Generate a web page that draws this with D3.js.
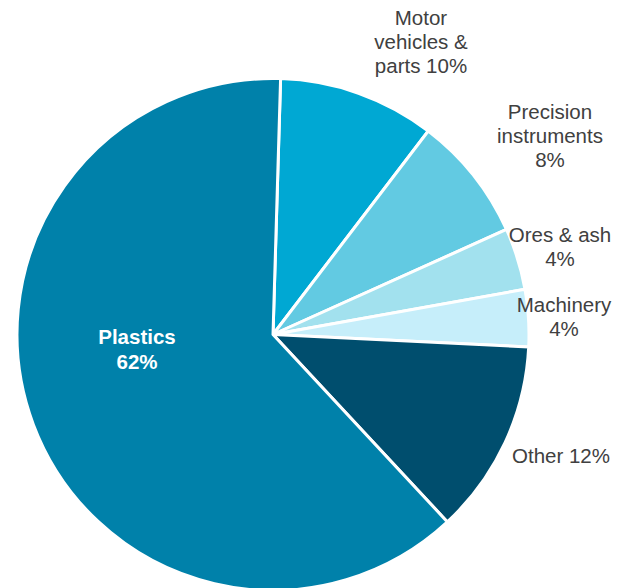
<!DOCTYPE html>
<html>
<head>
<meta charset="utf-8">
<script src="https://cdn.jsdelivr.net/npm/d3@7"></script>
<style>
  body { margin: 0; background: #fff; }
  text { font-family: "Liberation Sans", Arial, sans-serif; }
</style>
</head>
<body>
<div id="chart"></div>
<script>
// Shares (percent), clockwise from 12 o'clock
const categories = ["Motor vehicles & parts", "Precision instruments", "Ores & ash", "Machinery", "Other", "Plastics"];
const values = [9.9, 7.9, 3.9, 3.6, 12.3, 62.4];
const labelLines = [
  ["Motor", "vehicles &", "parts 10%"],
  ["Precision", "instruments", "8%"],
  ["Ores & ash", "4%"],
  ["Machinery", "4%"],
  ["Other 12%"],
  ["Plastics", "62%"]
];
const colors = ["#00a8d3", "#62cae2", "#a2e1ee", "#c6eefa", "#004e6e", "#0081aa"];

// Label anchors (centre x, first baseline y)
const labelPos = [[421, 25], [550, 119], [560, 242], [564, 312], [561, 463], [137, 344]];

const width = 623, height = 588;
const cx = 273, cy = 334.5, radius = 256;
const startAngle = 1.7 * Math.PI / 180;

const svg = d3.select("#chart").append("svg")
  .attr("width", width)
  .attr("height", height);

const pie = d3.pie()
  .sort(null)
  .startAngle(startAngle)
  .endAngle(startAngle + 2 * Math.PI);

const arc = d3.arc().innerRadius(0).outerRadius(radius);

const g = svg.append("g").attr("transform", `translate(${cx},${cy})`);

g.selectAll("path")
  .data(pie(values))
  .join("path")
  .attr("d", arc)
  .attr("fill", (d, i) => colors[i])
  .attr("stroke", "#fff")
  .attr("stroke-width", 3)
  .attr("stroke-linejoin", "round");

// Labels
const labels = svg.append("g");
labelLines.forEach((lines, i) => {
  const inside = i === labelLines.length - 1;
  const t = labels.append("text")
    .attr("text-anchor", "middle")
    .attr("x", labelPos[i][0])
    .attr("y", labelPos[i][1])
    .style("font-size", "20.5px")
    .style("font-weight", inside ? "bold" : "normal")
    .style("fill", inside ? "#fff" : "#404040");
  lines.forEach((line, j) => {
    t.append("tspan")
      .attr("x", labelPos[i][0])
      .attr("dy", j === 0 ? 0 : (inside ? 25 : 24))
      .text(line);
  });
});
</script>
</body>
</html>
